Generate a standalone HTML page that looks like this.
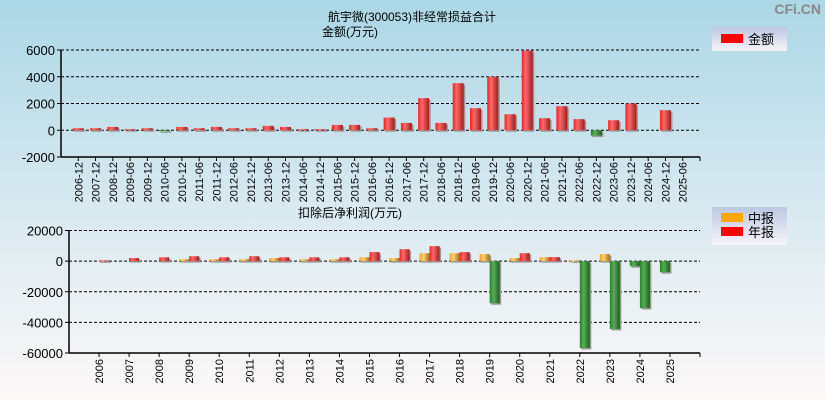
<!DOCTYPE html>
<html><head><meta charset="utf-8">
<style>
html,body{margin:0;padding:0;}
body{width:825px;height:400px;overflow:hidden;}
svg{display:block;font-family:"Liberation Sans","Noto Sans CJK SC",sans-serif;}
</style></head>
<body>
<svg id="c" width="825" height="400" viewBox="0 0 825 400" xmlns="http://www.w3.org/2000/svg">
<defs>
<linearGradient id="bg" x1="0" y1="0" x2="0" y2="1">
<stop offset="0" stop-color="#acd7e6"/><stop offset="0.55" stop-color="#dbeaf1"/><stop offset="1" stop-color="#fdf8f8"/>
</linearGradient>
<linearGradient id="lg" x1="0" y1="0" x2="0" y2="1">
<stop offset="0" stop-color="#bcc8e2"/><stop offset="1" stop-color="#f6f4f8"/>
</linearGradient>
<linearGradient id="gr" x1="0" y1="0" x2="1" y2="0">
<stop offset="0" stop-color="#ff1a1a"/><stop offset="0.35" stop-color="#ff6a6a"/><stop offset="1" stop-color="#9a2020"/>
</linearGradient>
<linearGradient id="gg" x1="0" y1="0" x2="1" y2="0">
<stop offset="0" stop-color="#1f8a1f"/><stop offset="0.4" stop-color="#5aaa5a"/><stop offset="1" stop-color="#1d5e1d"/>
</linearGradient>
<linearGradient id="go" x1="0" y1="0" x2="1" y2="0">
<stop offset="0" stop-color="#f0a020"/><stop offset="0.4" stop-color="#ffcf70"/><stop offset="1" stop-color="#a07020"/>
</linearGradient>
</defs>
<rect x="0" y="0" width="825" height="400" fill="url(#bg)"/>
<text x="821" y="14" font-size="14" font-weight="bold" fill="#888" text-anchor="end">CFi.CN</text>
<text x="412" y="21" font-size="12" text-anchor="middle">航宇微(300053)非经常损益合计</text>
<text x="350" y="36" font-size="12" text-anchor="middle">金额(万元)</text>
<text x="350" y="217" font-size="12" text-anchor="middle">扣除后净利润(万元)</text>
<g>
<rect x="712" y="27" width="75" height="24" fill="url(#lg)"/>
<rect x="721" y="34" width="22" height="9" fill="#ff0000"/>
<text x="748" y="44" font-size="13">金额</text>
</g>
<g>
<rect x="712" y="207" width="75" height="38" fill="url(#lg)"/>
<rect x="721" y="213" width="22" height="9" fill="#ffa500"/>
<text x="748" y="223" font-size="13">中报</text>
<rect x="721" y="227" width="22" height="9" fill="#ff0000"/>
<text x="748" y="237" font-size="13">年报</text>
</g>
<g id="top"></g>
<g id="bot"></g>
</svg>
<script>
const topCats = ["2006-12","2007-12","2008-12","2009-06","2009-12","2010-06","2010-12","2011-06","2011-12","2012-06","2012-12","2013-06","2013-12","2014-06","2014-12","2015-06","2015-12","2016-06","2016-12","2017-06","2017-12","2018-06","2018-12","2019-06","2019-12","2020-06","2020-12","2021-06","2021-12","2022-06","2022-12","2023-06","2023-12","2024-06","2024-12","2025-06"];
const topValues = [150,150,250,80,150,-80,250,150,250,150,150,330,250,80,80,400,400,150,950,550,2400,550,3520,1650,4000,1200,5950,900,1800,830,-400,750,2000,null,1500,null];
const topTicks = [6000,4000,2000,0,-2000];
const botCats = ["2006","2007","2008","2009","2010","2011","2012","2013","2014","2015","2016","2017","2018","2019","2020","2021","2022","2023","2024","2025"];
const botInterim = [null,null,null,1200,1200,1200,2000,1200,1200,2500,2000,5200,5200,4600,2000,2600,500,4600,-3300,-7200];
const botAnnual = [500,2000,2500,3200,2500,3200,2500,2500,2500,5900,7800,9800,5900,-27500,5200,2600,-56700,-44300,-30600,null];
const botTicks = [20000,0,-20000,-40000,-60000];

const NS="http://www.w3.org/2000/svg";
function mk(parent,tag,attrs,txt){const e=document.createElementNS(NS,tag);for(const k in attrs)e.setAttribute(k,attrs[k]);if(txt!=null)e.textContent=txt;parent.appendChild(e);return e;}

function axes(g,x0,x1,yTop,yBot,vMax,vMin,ticks,nSlots){
  const y=v=>yTop+(vMax-v)/(vMax-vMin)*(yBot-yTop);
  const x=i=>x0+(i+1)*(x1-x0)/nSlots;
  ticks.forEach(t=>{
    if(t!==vMin){const l=mk(g,'line',{x1:x0,x2:x1,y1:y(t),y2:y(t),stroke:'#000','stroke-dasharray':'3,2','stroke-width':1});
    
    }
    const tm=mk(g,'line',{x1:x0-4,x2:x0,y1:y(t),y2:y(t),stroke:'#000'});
    
    
    const tl=mk(g,'text',{x:x0-6,y:y(t)+5,'font-size':13,'text-anchor':'end'},t);
    
    
  });
  const a1=mk(g,'line',{x1:x0,x2:x0,y1:yTop,y2:yBot,stroke:'#000','stroke-width':1.5});
  
  
  const a2=mk(g,'line',{x1:x0,x2:x1,y1:yBot,y2:yBot,stroke:'#000','stroke-width':1.5});
  
  
  return {x,y};
}
function bar(g,xl,w,v,y,fillPos,name){
  if(v==null)return;
  const y0=y(0),yv=y(v);
  const top=Math.min(y0,yv),h=Math.max(Math.abs(yv-y0),1);
  const s=mk(g,'rect',{x:xl+1.5,y:top+1.5,width:w,height:h,fill:'#999'});
  
  
  const r=mk(g,'rect',{x:xl,y:top,width:w,height:h,fill:v<0?'url(#gg)':fillPos});
  
  
}
(function(){
  const g=document.getElementById('top');
  const A=axes(g,61,700,50,157,6000,-2000,topTicks,topCats.length+1);
  topCats.forEach((c,i)=>{
    const xc=A.x(i);
    const t=mk(g,'line',{x1:xc,x2:xc,y1:157,y2:161,stroke:'#000'});
    
    
    bar(g,xc-5.5,11,topValues[i],A.y,'url(#gr)','bar-'+c);
    const l=mk(g,'text',{x:0,y:0,'font-size':11,'text-anchor':'end',transform:`translate(${xc+4},162) rotate(-90)`},c);
    
    
  });
  const e=mk(g,'line',{x1:700,x2:700,y1:157,y2:161,stroke:'#000'});
  
  
})();
(function(){
  const g=document.getElementById('bot');
  const A=axes(g,69,700,230.5,353,20000,-60000,botTicks,botCats.length+1);
  botCats.forEach((c,i)=>{
    const xc=A.x(i);
    const t=mk(g,'line',{x1:xc,x2:xc,y1:353,y2:357,stroke:'#000'});
    
    
    bar(g,xc-10,10,botInterim[i],A.y,'url(#go)','bar-interim-'+c);
    bar(g,xc,10,botAnnual[i],A.y,'url(#gr)','bar-annual-'+c);
    const l=mk(g,'text',{x:0,y:0,'font-size':11,'text-anchor':'end',transform:`translate(${xc+4},359) rotate(-90)`},c);
    
    
  });
  const e=mk(g,'line',{x1:700,x2:700,y1:353,y2:357,stroke:'#000'});
  
  
})();
</script>
</body></html>
